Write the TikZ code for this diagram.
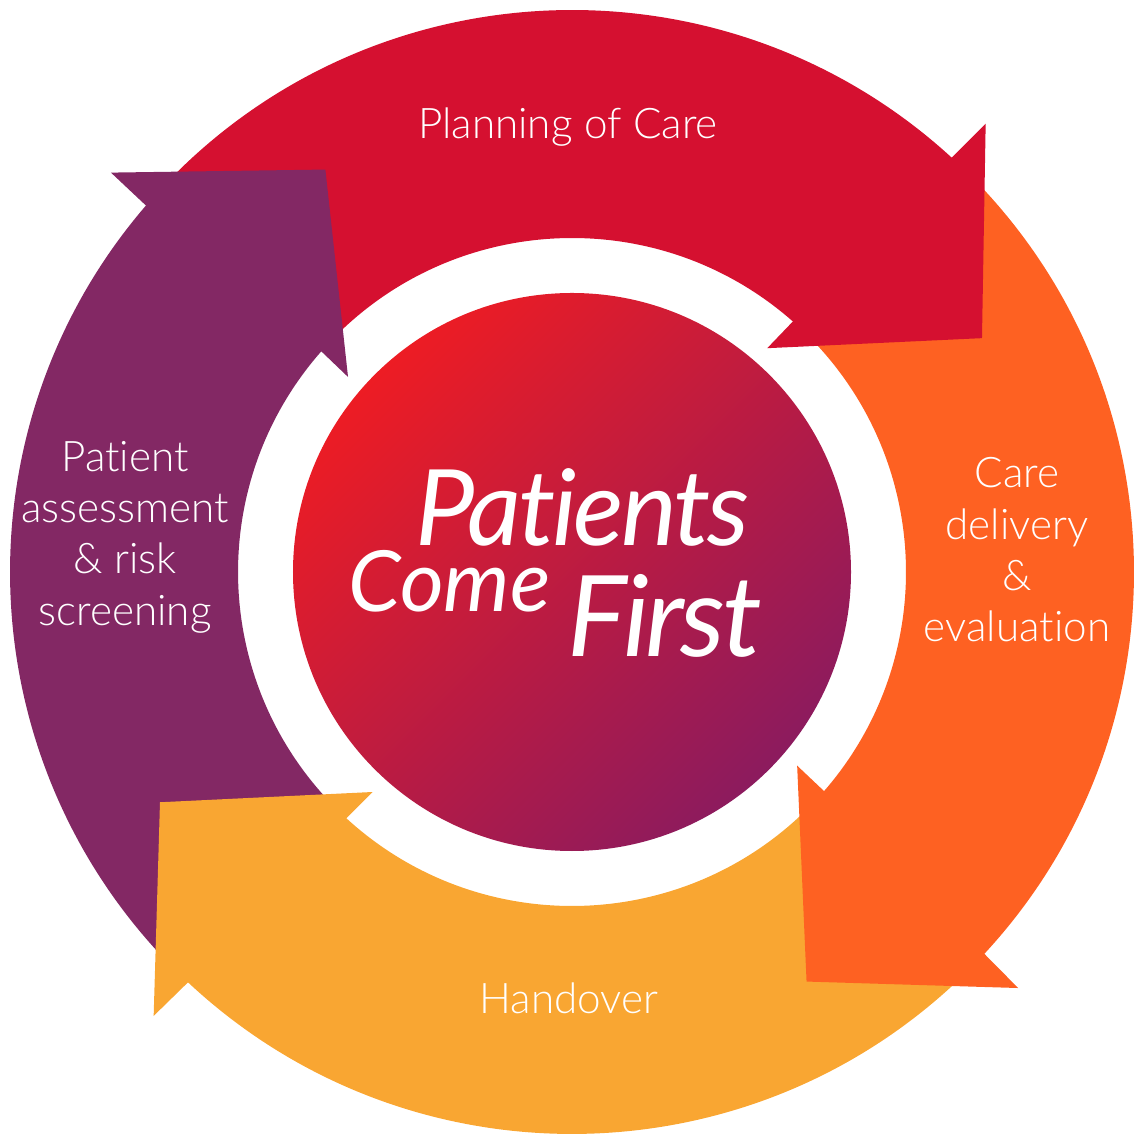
\documentclass[tikz,border=0pt]{standalone}
\usepackage{fontspec}
\setmainfont{Lato}[Ligatures=NoCommon]
\newfontfamily\lightfont{Lato Light}[Ligatures=NoCommon]
\usepackage{tikz}
\usetikzlibrary{shadings}
\definecolor{capRed}{RGB}{213,16,48}
\definecolor{capOrange}{RGB}{254,97,34}
\definecolor{capYellow}{RGB}{249,166,50}
\definecolor{capPurple}{RGB}{131,40,100}
\definecolor{hubRed}{RGB}{237,28,36}
\definecolor{hubPurple}{RGB}{140,27,94}
\tikzset{
    lbl/.style={text=white, font=\lightfont\fontsize{12}{14.6}\selectfont, align=center, inner sep=0},
    big/.style={text=white, anchor=base west, inner sep=0}
}
\begin{document}
\begin{tikzpicture}[x=0.01cm, y=0.01cm]
\useasboundingbox (-572,-562) rectangle (568,572);
\foreach \oa/\ia/\tail/\col in {47.5/48.6/136.5/capRed, -42.8/-41/45/capOrange, -133.1/-132.5/-44.5/capYellow, 139.3/138.65/224.5/capPurple}
{
    \pgfmathsetmacro{\os}{\oa - 0.5}
    \pgfmathsetmacro{\is}{\ia - 0.5}
    \fill[\col] (\tail:562) arc[start angle=\tail, end angle=\os, radius=562]
        -- (\is:334) arc[start angle=\is, end angle=\tail, radius=334] -- cycle;
}
\foreach \oa/\ia/\tp/\col in {47.5/48.6/29.7/capRed, -42.8/-41/-60.2/capOrange, -133.1/-132.5/-150.8/capYellow, 139.3/138.65/121.5/capPurple}
{
    \fill[\col] (\oa:562) -- ({\oa-0.2}:610) -- (\tp:472) -- ({\ia+0.3}:297) -- (\ia:334) -- cycle;
}
\shade[shading=axis, top color=hubRed, bottom color=hubPurple, shading angle=45] (0,0) circle[radius=279];
\node[lbl] (plan) at (-4,445) {Planning of Care};
\node[lbl] (deliv) at (445,22) {Care\\delivery\\\&\\evaluation};
\node[lbl] (hand) at (-3,-426) {Handover};
\node[lbl] (assess) at (-447,35) {Patient\\assessment\\\& risk\\screening};
\node[big, font=\itshape\addfontfeatures{LetterSpace=-3}\fontsize{30}{30}\selectfont] (pat) at (-157,26) {Patients};
\node[big, font=\itshape\fontsize{24}{24}\selectfont] (come) at (-224,-40) {Come};
\node[big, font=\itshape\addfontfeatures{LetterSpace=-3}\fontsize{32}{32}\selectfont] (first) at (-5,-85) {First};
\end{tikzpicture}
\end{document}
